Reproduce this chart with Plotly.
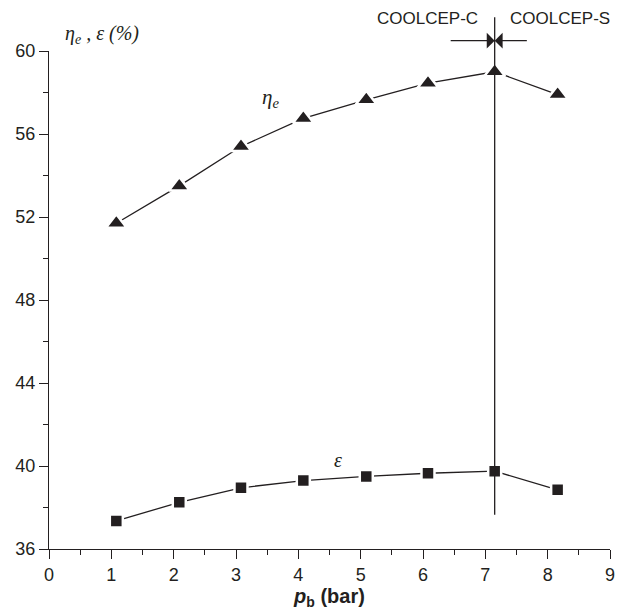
import plotly.graph_objects as go

# ---- data ----
p_b = [1.08, 2.09, 3.08, 4.08, 5.09, 6.08, 7.15, 8.16]
eta_e = [51.7, 53.5, 55.4, 56.75, 57.65, 58.45, 59.0, 57.9]
epsilon = [37.35, 38.25, 38.95, 39.3, 39.5, 39.65, 39.75, 38.85]

x_ticks = [0, 1, 2, 3, 4, 5, 6, 7, 8, 9]
y_ticks = [36, 40, 44, 48, 52, 56, 60]
y_range = [36, 60]

boundary_p = 7.15            # COOLCEP-C / COOLCEP-S boundary
boundary_y = [37.65, 61.7]   # extent of the boundary line
arrow_y = 60.5
arrow_tails = [6.42, 7.69]
label_y = 61.55


def to_paper(v):
    return (v - y_range[0]) / (y_range[1] - y_range[0])


INK = "#231f20"
SANS = "Arial, Liberation Sans, sans-serif"
SERIF = "Times New Roman, Liberation Serif, serif"

fig = go.Figure()

fig.add_trace(go.Scatter(
    x=p_b, y=eta_e, mode="lines+markers",
    line=dict(color=INK, width=1.3),
    marker=dict(symbol="triangle-up", size=18, color=INK,
                line=dict(color="white", width=2.5)),
    cliponaxis=False, showlegend=False,
))
fig.add_trace(go.Scatter(
    x=p_b, y=epsilon, mode="lines+markers",
    line=dict(color=INK, width=1.3),
    marker=dict(symbol="square", size=13, color=INK,
                line=dict(color="white", width=2.5)),
    cliponaxis=False, showlegend=False,
))

annotations = []
# vertical boundary line (head inside the axis range, tail above it)
annotations.append(dict(
    x=boundary_p, y=boundary_y[0], ax=boundary_p, ay=boundary_y[1],
    xref="x", yref="y", axref="x", ayref="y",
    text="", showarrow=True, arrowhead=0, arrowwidth=1.3, arrowcolor=INK,
    standoff=0, startstandoff=0,
))
# arrows pointing to the boundary
for tail in arrow_tails:
    annotations.append(dict(
        x=boundary_p, y=to_paper(arrow_y), ax=tail, ay=0,
        xref="x", yref="paper", axref="x", ayref="pixel",
        text="", showarrow=True, arrowhead=1, arrowsize=2.2, arrowwidth=1.2,
        arrowcolor=INK, standoff=0, startstandoff=0,
    ))
# region labels
annotations.append(dict(
    x=boundary_p, y=to_paper(label_y), xref="x", yref="paper", text="COOLCEP-C",
    showarrow=False, xanchor="right", yanchor="middle", xshift=-15,
    font=dict(family=SANS, size=17, color=INK),
))
annotations.append(dict(
    x=boundary_p, y=to_paper(label_y), xref="x", yref="paper", text="COOLCEP-S",
    showarrow=False, xanchor="left", yanchor="middle", xshift=13,
    font=dict(family=SANS, size=17, color=INK),
))
# series labels
annotations.append(dict(
    x=3.56, y=57.75, xref="x", yref="y",
    text="<i>η</i><sub><i>e</i></sub>", showarrow=False,
    font=dict(family=SERIF, size=21, color=INK),
))
annotations.append(dict(
    x=4.63, y=40.3, xref="x", yref="y",
    text="<i>ε</i>", showarrow=False,
    font=dict(family=SERIF, size=20, color=INK),
))
# y-axis title at top-left
annotations.append(dict(
    x=0.0, y=1.0, xref="paper", yref="paper", xanchor="left", yanchor="bottom",
    xshift=14, yshift=2,
    text="<i>η</i><sub><i>e</i></sub><i> , ε (%)</i>", showarrow=False,
    font=dict(family=SERIF, size=20, color=INK),
))

fig.update_layout(
    width=624, height=610,
    margin=dict(l=49, r=9, t=51, b=59),
    paper_bgcolor="white", plot_bgcolor="white",
    font=dict(family=SANS, size=18, color=INK),
    annotations=annotations,
    xaxis=dict(
        range=[0, 9], tickvals=x_ticks, ticktext=[str(v) for v in x_ticks],
        showgrid=False, zeroline=False, showline=True,
        linecolor=INK, linewidth=1.3,
        ticks="outside", ticklen=9, tickwidth=1.3, tickcolor=INK,
        minor=dict(dtick=0.5, ticks="outside", ticklen=5, tickwidth=1.3,
                   tickcolor=INK, showgrid=False),
        tickfont=dict(family=SANS, size=18, color=INK),
        title=dict(text="<b><i>p</i><sub>b</sub> (bar)</b>",
                   font=dict(family=SANS, size=20, color=INK), standoff=2),
    ),
    yaxis=dict(
        range=y_range, tickvals=y_ticks, ticktext=[str(v) for v in y_ticks],
        showgrid=False, zeroline=False, showline=True,
        linecolor=INK, linewidth=1.3,
        ticks="outside", ticklen=9, tickwidth=1.3, tickcolor=INK,
        minor=dict(dtick=2, ticks="outside", ticklen=5, tickwidth=1.3,
                   tickcolor=INK, showgrid=False),
        tickfont=dict(family=SANS, size=18, color=INK),
    ),
)

fig.write_html("out.html", config={"displayModeBar": False},
               post_script="document.body.style.margin='0';")
